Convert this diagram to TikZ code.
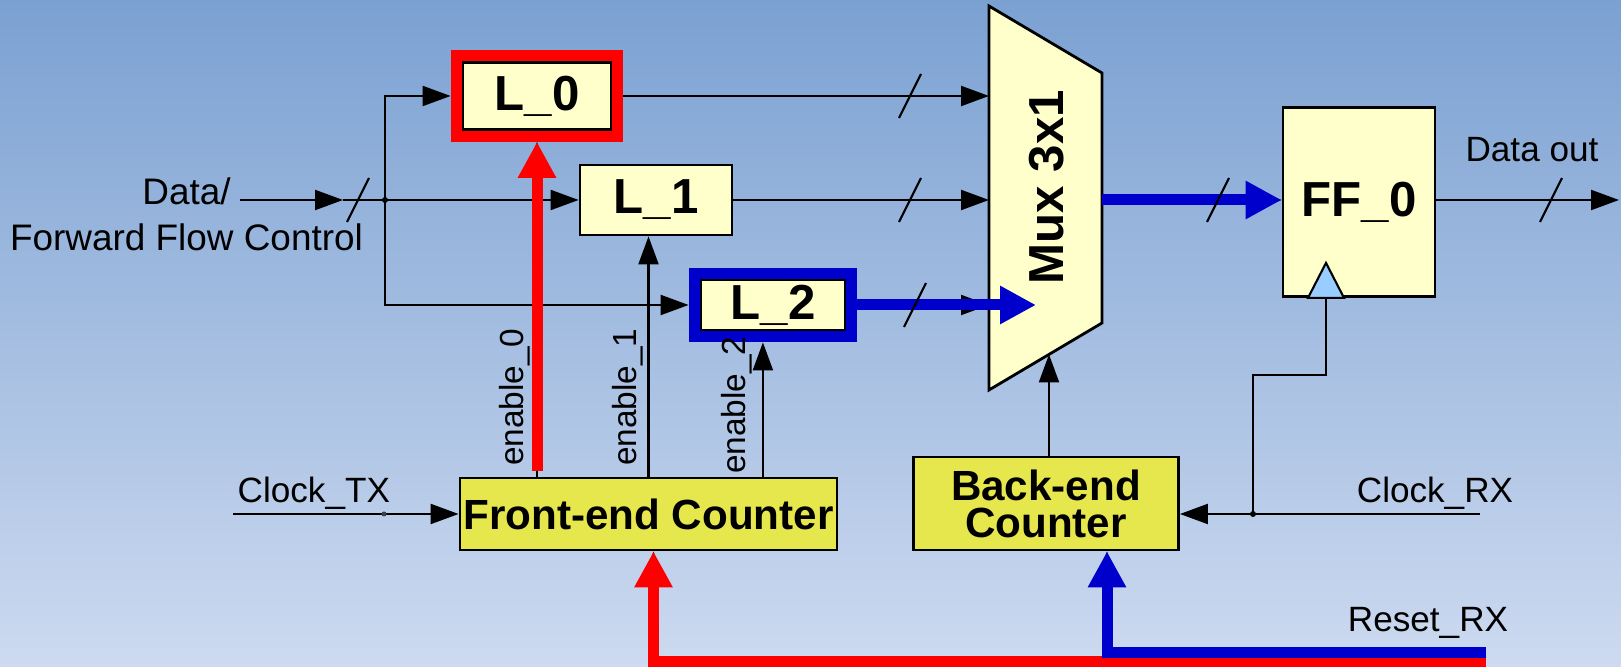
\documentclass[tikz,border=0pt]{standalone}
\usepackage{fontspec}
\setmainfont{Liberation Sans}
\usepackage{tikz}
\usetikzlibrary{arrows.meta, positioning, fit, calc}
\definecolor{C_BGTOP}{HTML}{7BA1D2}
\definecolor{C_BGBOT}{HTML}{CDDAF0}
\definecolor{C_LATCH}{HTML}{FFFFCC}
\definecolor{C_CNT}  {HTML}{E6E64D}
\definecolor{C_CLK}  {HTML}{99CCFF}
\definecolor{C_HOT}  {HTML}{FF0000}
\definecolor{C_PATH} {HTML}{0000CC}
%% bus-width slash across a wire
\newcommand{\busmark}[2]{\draw[BD/wire] (#1-0.11,#2-0.22) -- (#1+0.11,#2+0.22);}
\tikzset{
  %% -- latch / register boxes --
  BD/latch/.style={draw, line width=0.8pt, fill=C_LATCH, inner sep=0pt,
    font=\fontsize{14}{16}\selectfont\bfseries},
  %% -- counter boxes --
  BD/count/.style={draw, line width=0.8pt, fill=C_CNT, inner sep=0pt,
    align=center, font=\fontsize{12}{10.5}\selectfont\bfseries},
  %% -- highlight frame round a latch --
  BD/frame/.style={draw, line width=0.11cm, inner sep=0.055cm, outer sep=0.055cm},
  %% -- plain signal wire --
  BD/wire/.style={line width=0.6pt, black},
  BD/arr/.style={BD/wire, -{Triangle[length=0.28cm, width=0.2cm]}},
  %% -- thick highlighted path --
  BD/hot/.style={line width=0.11cm, -{Triangle[length=0.36cm, width=0.36cm]}},
  %% -- signal labels --
  BD/lbl/.style={font=\fontsize{10}{13}\selectfont, inner sep=0pt},
  BD/en/.style={font=\fontsize{9.5}{11}\selectfont, inner sep=0pt,
    rotate=90, anchor=south west},
}

\begin{document}
\begin{tikzpicture}[x=1cm, y=1cm]

%% ── Background ─────────────────────────────────────────────────────────────
\shade[top color=C_BGTOP, bottom color=C_BGBOT] (0,0) rectangle (16.21,6.67);
\useasboundingbox (0,0) rectangle (16.21,6.67);

%% ── Lane heights ───────────────────────────────────────────────────────────
\pgfmathsetmacro{\yA}{5.71}   %% L_0 lane
\pgfmathsetmacro{\yB}{4.67}   %% L_1 lane, mux output
\pgfmathsetmacro{\yC}{3.62}   %% L_2 lane

%% ── Latches ────────────────────────────────────────────────────────────────
\node[BD/latch, minimum width=1.48cm, minimum height=0.67cm] (L0) at (5.37,\yA) {L\_0};
\node[BD/frame, draw=C_HOT, fit=(L0)] (L0frame) {};
\node[BD/latch, minimum width=1.52cm, minimum height=0.70cm] (L1) at (6.56,\yB) {L\_1};
\node[BD/latch, minimum width=1.44cm, minimum height=0.50cm] (L2) at (7.73,\yC) {L\_2};
\node[BD/frame, draw=C_PATH, fit=(L2)] (L2frame) {};

%% ── Mux ────────────────────────────────────────────────────────────────────
\draw[line width=0.8pt, fill=C_LATCH]
  (9.89,6.61) coordinate (muxNW) -- (11.02,5.94) coordinate (muxNE) --
  (11.02,3.44) coordinate (muxSE) -- (9.89,2.77) coordinate (muxSW) -- cycle;
\node[rotate=90, font=\fontsize{14}{16}\selectfont\bfseries] (muxlbl) at (10.47,4.80) {Mux 3x1};

%% ── Output flip-flop ───────────────────────────────────────────────────────
\node[BD/latch, minimum width=1.52cm, minimum height=1.89cm] (FF0) at (13.59,4.65) {FF\_0};
\coordinate (ckin) at ($(FF0.south)+(-0.33,0)$);
\draw[BD/wire, fill=C_CLK] ($(ckin)+(-0.18,0)$) -- ($(ckin)+(0,0.35)$)
  -- ($(ckin)+(0.18,0)$) -- cycle;

%% ── Counters ───────────────────────────────────────────────────────────────
\node[BD/count, minimum width=3.77cm, minimum height=0.72cm] (FEC) at (6.485,1.53)
  {Front-end Counter};
\node[BD/count, minimum width=2.65cm, minimum height=0.93cm] (BEC) at (10.46,1.635)
  {Back-end\\Counter};

%% ── Data input and fan-out ─────────────────────────────────────────────────
\node[BD/lbl, align=center, font=\fontsize{10.5}{13}\selectfont] (lDin) at (1.865,4.53)
  {Data/\\Forward Flow Control};
\coordinate (din)  at (2.40,\yB);
\coordinate (dtip) at (3.43,\yB);
\coordinate (bus)  at (3.85,\yB);
\draw[BD/arr] (din) -- (dtip);
\draw[BD/wire] (dtip) -- (bus);
\fill (bus) circle (0.03);
\draw[BD/arr] (bus) |- (L0frame.west);
\draw[BD/arr] (bus) -- (L1.west);
\draw[BD/arr] (bus) |- (L2frame.west);

%% latch outputs into the mux
\draw[BD/arr] (L0frame.east) -- (L0frame.east -| muxNW);
\draw[BD/arr] (L1.east) -- (L1.east -| muxNW);
\draw[BD/arr] (L2frame.east) -- (L2frame.east -| muxNW);

%% mux to flip-flop, flip-flop to output
\coordinate (muxout) at (muxNE |- L1.east);
\coordinate (dout) at (16.19,\yB);
\draw[BD/arr] (muxout) -- (FF0.west |- muxout);
\draw[BD/arr] (FF0.east |- dout) -- (dout);
\node[BD/lbl] (lDout) at (15.32,5.17) {Data out};

%% ── Enables ────────────────────────────────────────────────────────────────
\coordinate (e0) at (FEC.north -| L0frame.south);
\coordinate (e1) at (FEC.north);
\coordinate (e2) at ($(FEC.north east)+(-0.755,0)$);
\draw[BD/arr] (e0) -- (L0frame.south);
\draw[BD/arr] (e1) -- (e1 |- L1.south);
\draw[BD/arr] (e2) -- (e2 |- L2frame.south);
\node[BD/en] (lEn0) at ($(e0)+(-0.06,0.10)$) {enable\_0};
\node[BD/en] (lEn1) at ($(e1)+(-0.05,0.10)$) {enable\_1};
\node[BD/en] (lEn2) at ($(e2)+(-0.10,0.02)$) {enable\_2};

%% ── Clocks ─────────────────────────────────────────────────────────────────
\coordinate (ctx) at (2.33,1.53);
\draw[BD/arr] (ctx) -- (FEC.west);
\fill[gray!50!black] (3.84,1.53) circle (0.025);
\node[BD/lbl, anchor=south west] (lCtx) at (2.37,1.57) {Clock\_TX};

\coordinate (crx) at (14.80,1.53);
\coordinate (jrx) at (12.53,1.53);
\draw[BD/arr] (crx) -- (BEC.east |- crx);
\draw[BD/wire] (ckin) -- ++(0,-0.775) -| (jrx);
\fill (jrx) circle (0.03);
\node[BD/lbl, anchor=south] (lCrx) at (14.35,1.57) {Clock\_RX};

%% back-end counter selects the mux input
\coordinate (muxsel) at ($(muxSW)!0.531!(muxSE)$);
\draw[BD/arr] (BEC.north -| muxsel) -- (muxsel);

%% ── Reset ──────────────────────────────────────────────────────────────────
\coordinate (rrx) at (14.86,0.10);
\node[BD/lbl] (lRrx) at (14.28,0.44) {Reset\_RX};
\draw[BD/arr] (rrx) -| ($(FEC.south)+(0.05,0)$);
\draw[BD/arr] (rrx) -| ($(BEC.south)+(0.61,0)$);

%% ── Highlighted paths ──────────────────────────────────────────────────────
\draw[BD/hot, C_HOT]  ($(rrx)+(0,-0.045)$) -| ($(FEC.south)+(0.05,0)$);
\draw[BD/hot, C_PATH] ($(rrx)+(0,0.04)$) -| ($(BEC.south)+(0.61,0)$);
\draw[BD/hot, C_HOT]  ($(e0)+(0,0.06)$) -- (L0frame.south);
\draw[BD/hot, C_PATH] (L2frame.east) -- ($(L2frame.east -| muxNW)+(0.47,0)$);
\draw[BD/hot, C_PATH] (muxout) -- (FF0.west |- muxout);

%% ── Bus-width marks ────────────────────────────────────────────────────────
\busmark{3.58}{\yB}
\busmark{9.10}{\yA}
\busmark{9.10}{\yB}
\busmark{9.15}{\yC}
\busmark{12.18}{\yB}
\busmark{15.51}{\yB}

\end{tikzpicture}
\end{document}
